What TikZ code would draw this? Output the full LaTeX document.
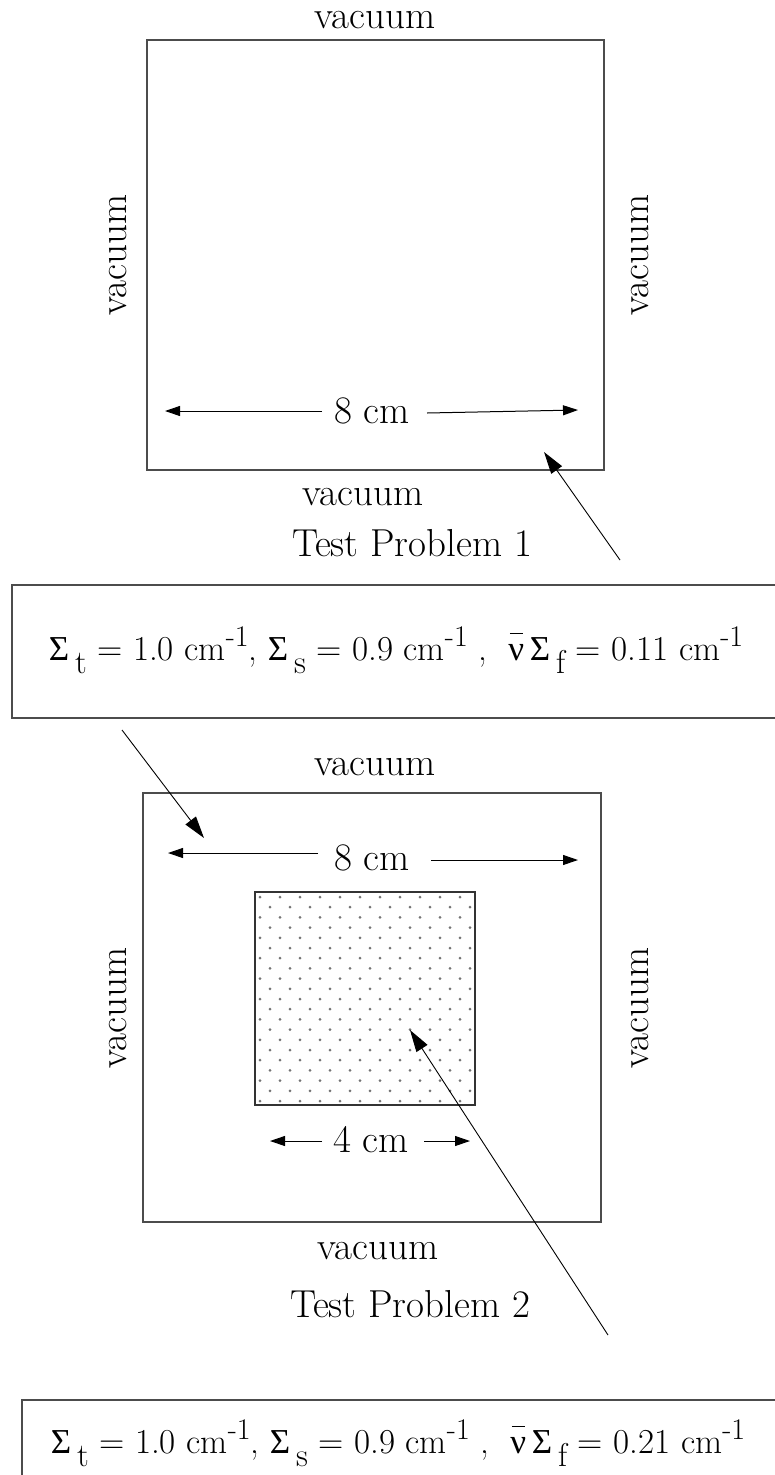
\documentclass[tikz,border=0pt]{standalone}
\usepackage{fontspec}
\newfontfamily\grk{Liberation Serif}
\usetikzlibrary{arrows.meta}
\newcommand{\mysub}[1]{\raisebox{-13pt}{\fontsize{33}{36}\selectfont #1}}
\newcommand{\mysup}[1]{\raisebox{13.5pt}{\fontsize{30}{34}\selectfont #1}}
\newcommand{\Sig}{{\grk Σ}}
\newcommand{\nubar}{\leavevmode\rlap{\hspace{1.5pt}\raisebox{26pt}{\rule{13.5pt}{1.4pt}}}{\grk ν}}
\newcommand{\myeqn}[1]{\Sig\,\mysub{t} = 1.0 cm\mysup{-1}, \Sig\,\mysub{s} = 0.9 cm\mysup{-1} , \ \nubar\,\Sig\,\mysub{f} = #1 cm\mysup{-1}}
\begin{document}
\begin{tikzpicture}[x=1pt,y=-1pt,
  lbl/.style={font=\fontsize{39}{44}\selectfont, inner sep=0pt},
  eqlbl/.style={font=\fontsize{35}{42}\selectfont, inner sep=0pt},
  frame/.style={draw=black!70, line width=1.3pt, inner sep=0pt},
  dimarrow/.style={-{Triangle[length=15pt,width=10pt]}, line width=1pt},
  ptr/.style={-{Triangle[length=22pt,width=13pt]}, line width=0.9pt},
  dotc/.style={fill=black!55}]
\useasboundingbox (0,0) rectangle (775,1475);

% ---------- Test problem 1 ----------
\node[frame, minimum width=457pt, minimum height=430pt] (sq1) at (375.5,255) {};
\node[lbl] (v1t) at (375,20) {vacuum};
\node[lbl, rotate=90] (v1l) at (118,255) {vacuum};
\node[lbl, rotate=90] (v1r) at (640,255) {vacuum};
\node[lbl] (v1b) at (363,497) {vacuum};
\node[lbl] (tp1) at (412,543) {Test Problem 1};
\node[lbl] (d1) at (372,411) {8 cm};
\coordinate (d1lt) at (322,411);
\coordinate (d1l) at (165,411);
\coordinate (d1rt) at (427,413);
\coordinate (d1r) at (578,410);
\draw[dimarrow] (d1lt) -- (d1l);
\draw[dimarrow] (d1rt) -- (d1r);

% equation box 1
\node[frame, minimum width=770pt, minimum height=133pt] (box1) at (397,651.5) {};
\node[eqlbl] (eq1) at (396,650) {\myeqn{0.11}};

\coordinate (p1s) at (620,560);
\coordinate (p1e) at (544,452);
\draw[ptr] (p1s) -- (p1e);

% ---------- Test problem 2 ----------
\node[frame, minimum width=458pt, minimum height=429pt] (sq2) at (372,1007.5) {};
\node[frame, draw=black!80, minimum width=220pt, minimum height=213pt] (inner) at (365,998.5) {};
\foreach \k in {0,...,20} {
  \pgfmathsetmacro{\yy}{897+10.2*\k}
  \pgfmathtruncatemacro{\odd}{mod(\k,2)}
  \foreach \j in {0,...,10} {
    \pgfmathsetmacro{\xx}{260+20*\j+10*\odd}
    \fill[dotc] (\xx,\yy) circle (1.5pt);
  }
}
\node[lbl] (v2t) at (375,767) {vacuum};
\node[lbl, rotate=90] (v2l) at (118,1008) {vacuum};
\node[lbl, rotate=90] (v2r) at (640,1008) {vacuum};
\node[lbl] (v2b) at (378,1251) {vacuum};
\node[lbl] (tp2) at (410,1304) {Test Problem 2};
\node[lbl] (d2) at (372,858) {8 cm};
\coordinate (d2lt) at (318,853);
\coordinate (d2l) at (168,853);
\coordinate (d2rt) at (431,860);
\coordinate (d2r) at (578,860);
\draw[dimarrow] (d2lt) -- (d2l);
\draw[dimarrow] (d2rt) -- (d2r);
\node[lbl] (d3) at (371,1140) {4 cm};
\coordinate (d3lt) at (322,1141);
\coordinate (d3l) at (270,1141);
\coordinate (d3rt) at (424,1141);
\coordinate (d3r) at (470,1141);
\draw[dimarrow] (d3lt) -- (d3l);
\draw[dimarrow] (d3rt) -- (d3r);

\coordinate (p2s) at (122,730);
\coordinate (p2e) at (204,838);
\draw[ptr] (p2s) -- (p2e);

% equation box 2
\node[frame, minimum width=760pt, minimum height=200pt] (box2) at (402,1500) {};
\node[eqlbl] (eq2) at (398,1443) {\myeqn{0.21}};

\coordinate (p3s) at (608,1335);
\coordinate (p3e) at (410,1030);
\draw[ptr] (p3s) -- (p3e);
\end{tikzpicture}
\end{document}
